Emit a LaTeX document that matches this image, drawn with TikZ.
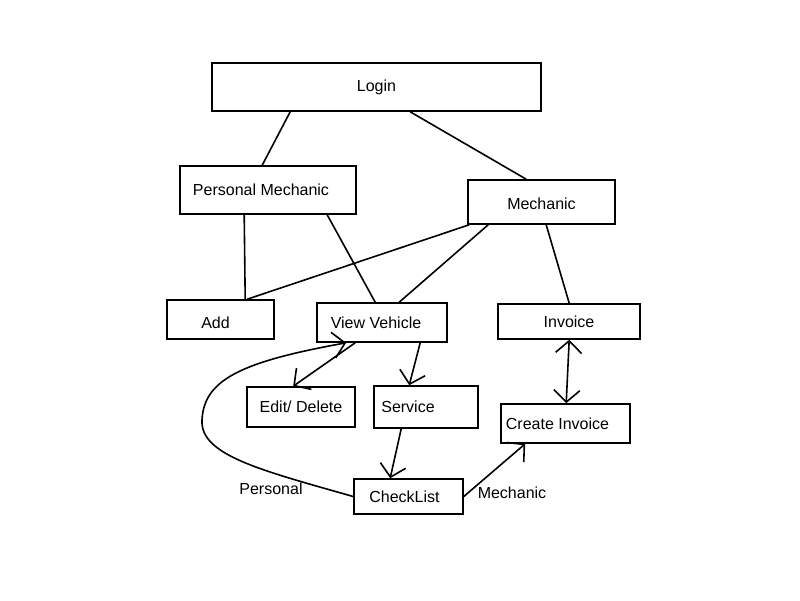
\documentclass[tikz,border=0pt]{standalone}
\usepackage{fontspec}
\setmainfont{Liberation Sans}
\usetikzlibrary{arrows.meta}

\begin{document}
\begin{tikzpicture}[x=1pt, y=-1pt,
                    every node/.append style={font=\fontsize{16}{18}\selectfont},
                    box/.style={rectangle, draw, line width=1.6pt, inner sep=0pt, align=center},
                    plain/.style={inner sep=0pt},
                    every path/.append style={line width=1.6pt},
                    barb/.style={-{Straight Barb[length=12pt, width=26pt]}},
                    bibarb/.style={{Straight Barb[length=12pt, width=26pt]}-{Straight Barb[length=12pt, width=26pt]}}]
    \useasboundingbox (0,0) rectangle (800,600);

    \node [box, minimum width=329pt, minimum height=48pt] (login) at (376.5,87) {Login};
    \node [box, minimum width=176pt, minimum height=48pt] (persmech) at (268,190) {Personal Mechanic\hspace*{14pt}};
    \node [box, minimum width=147pt, minimum height=44pt] (mech) at (541.5,202) {\raisebox{-2pt}[\height][\depth]{Mechanic}};

    \node [box, minimum width=107pt, minimum height=39pt] (add) at (220.5,319.5) {\raisebox{-3pt}[\height][\depth]{Add}\hspace*{10pt}};
    \node [box, minimum width=130pt, minimum height=39pt] (viewveh) at (382,322.5) {View Vehicle\hspace*{12pt}};
    \node [box, minimum width=142pt, minimum height=35pt] (invoice) at (569,321.5) {Invoice};

    \node [box, minimum width=108pt, minimum height=40pt] (editdel) at (301,407) {Edit/ Delete};
    \node [box, minimum width=104pt, minimum height=42pt] (service) at (426,407) {Service\hspace*{36pt}};
    \node [box, minimum width=129pt, minimum height=39pt] (createinv) at (565.5,423.5) {Create Invoice\hspace*{16pt}};
    \node [box, minimum width=109pt, minimum height=35pt] (checklist) at (408.5,496.5) {CheckList\hspace*{8pt}};

    \node [plain] (personal_lbl) at (271,489) {Personal};
    \node [plain] (mechanic_lbl) at (512,493) {Mechanic};

    % Draw the lines
    \draw ([xshift=79pt]login.south west)    -- ([xshift=83pt]persmech.north west);
    \draw ([xshift=199pt]login.south west)   -- ([xshift=59pt]mech.north west);
    \draw ([xshift=65pt]persmech.south west) -- ([xshift=79pt]add.north west);
    \draw ([xshift=148pt]persmech.south west) -- ([xshift=59pt]viewveh.north west);
    \draw ([xshift=2pt]mech.south west)      -- ([xshift=81pt]add.north west);
    \draw ([xshift=21pt]mech.south west)     -- ([xshift=83pt]viewveh.north west);
    \draw ([xshift=79pt]mech.south west)     -- ([xshift=72pt]invoice.north west);
    % Draw the arrows
    \draw [barb]   ([xshift=39pt]viewveh.south west)  -- ([xshift=47pt]editdel.north west);
    \draw [barb]   ([xshift=104pt]viewveh.south west) -- ([xshift=36pt]service.north west);
    \draw [barb]   ([xshift=28pt]service.south west)  -- ([xshift=37pt]checklist.north west);
    \draw [bibarb] ([xshift=72pt]invoice.south west)  -- ([xshift=66pt]createinv.north west);
    \draw [barb]   (checklist.east)                   -- ([xshift=25pt]createinv.south west);
    \draw [barb]   (checklist.west) .. controls (260,470) and (200,455) .. (202,420)
                                    .. controls (204,380) and (240,362) .. ([xshift=30pt]viewveh.south west);
\end{tikzpicture}
\end{document}
